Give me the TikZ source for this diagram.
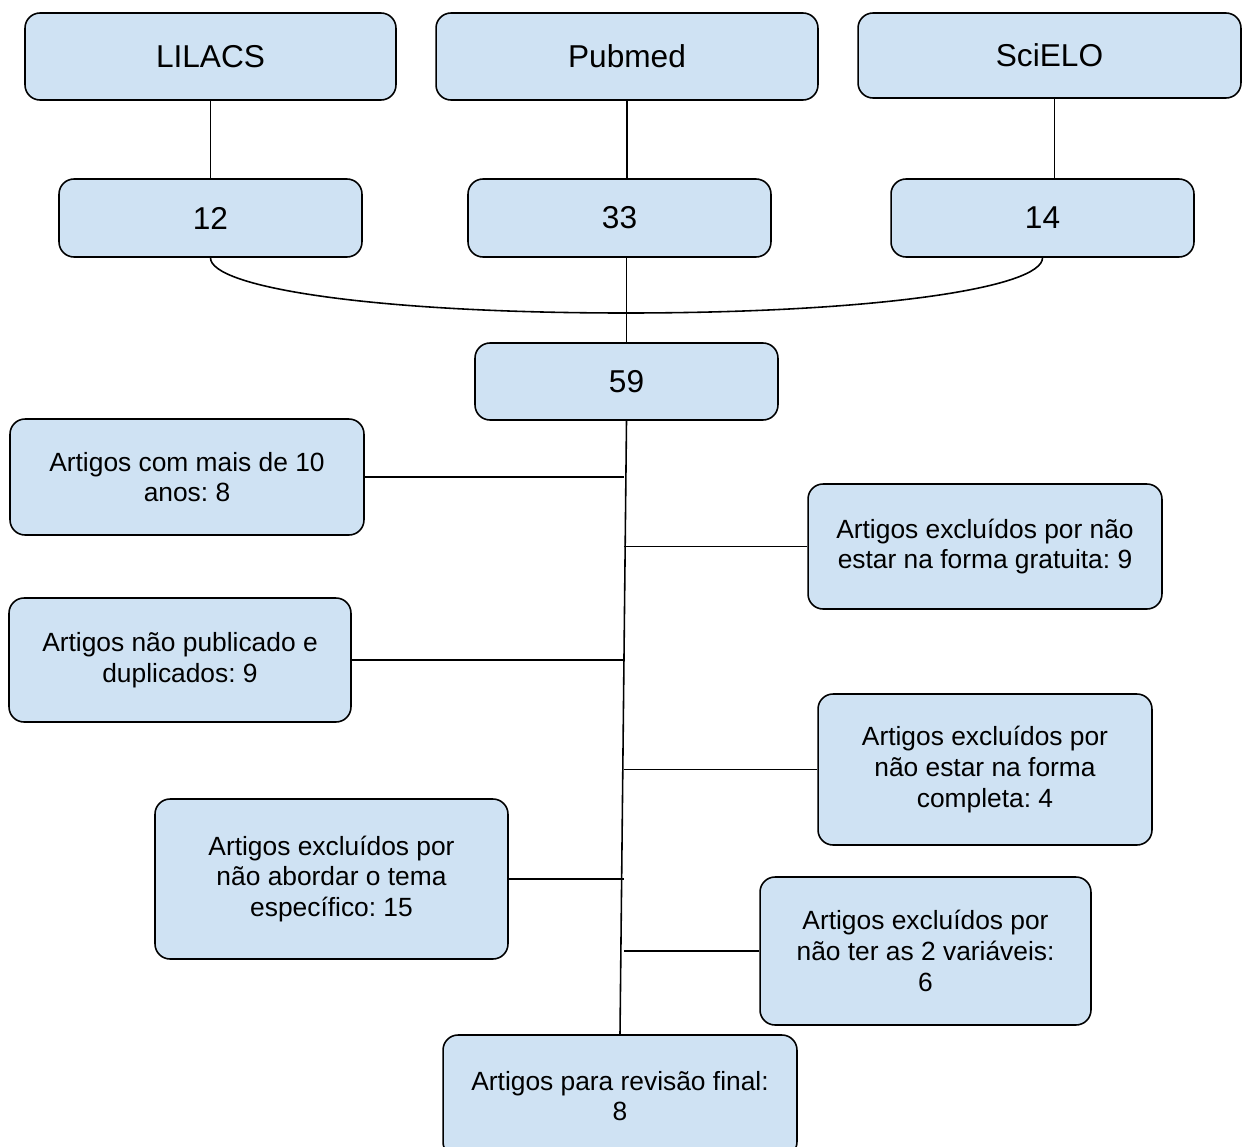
\documentclass[tikz,border=0pt]{standalone}
\usepackage{fontspec}
\setmainfont{Liberation Sans}
\usetikzlibrary{positioning}
\definecolor{azulclaro}{HTML}{CFE2F3}
\frenchspacing

\begin{document}
\begin{tikzpicture}[x=0.02cm, y=-0.02cm,
  caixa/.style={draw=black, fill=azulclaro, rounded corners=0.3cm, line width=0.9pt, align=center, inner sep=0pt},
  grande/.style={font=\fontsize{18}{22}\selectfont},
  texto/.style={font=\fontsize{15}{17.5}\selectfont},
  ligacao/.style={black, line width=0.9pt}]

\useasboundingbox (0,0) rectangle (1244,1146);

% bases de dados
\node[caixa, grande, minimum width=7.42cm, minimum height=1.74cm] (lilacs) at (210.5,56.5) {LILACS};
\node[caixa, grande, minimum width=7.64cm, minimum height=1.74cm] (pubmed) at (627,56.5) {Pubmed};
\node[caixa, grande, minimum width=7.66cm, minimum height=1.70cm] (scielo) at (1049.5,55.5) {SciELO};

\node[caixa, grande, minimum width=6.06cm, minimum height=1.56cm] (nl) at (210.5,218) {12};
\node[caixa, grande, minimum width=6.06cm, minimum height=1.56cm] (np) at (619.5,218) {33};
\node[caixa, grande, minimum width=6.06cm, minimum height=1.56cm] (ns) at (1042.5,218) {14};

\node[caixa, grande, minimum width=6.06cm, minimum height=1.54cm] (total) at (626.5,381.5) {59};

% exclusoes
\node[caixa, texto, minimum width=7.08cm, minimum height=2.32cm] (dez) at (187,477) {Artigos com mais de 10\\anos: 8};
\node[caixa, texto, minimum width=7.08cm, minimum height=2.50cm] (gratis) at (985,546.5) {Artigos excluídos por não\\estar na forma gratuita: 9};
\node[caixa, texto, minimum width=6.84cm, minimum height=2.48cm] (dupl) at (180,660) {Artigos não publicado e\\duplicados: 9};
\node[caixa, texto, minimum width=6.68cm, minimum height=3.02cm] (compl) at (985,769.5) {Artigos excluídos por\\não estar na forma\\completa: 4};
\node[caixa, texto, minimum width=7.06cm, minimum height=3.20cm] (tema) at (331.5,879) {Artigos excluídos por\\não abordar o tema\\específico: 15};
\node[caixa, texto, minimum width=6.62cm, minimum height=2.96cm] (vari) at (925.5,951) {Artigos excluídos por\\não ter as 2 variáveis:\\6};
\node[caixa, texto, minimum width=7.08cm, minimum height=2.44cm] (final) at (620,1096) {Artigos para revisão final:\\8};

\draw[ligacao] (lilacs.south) -- (lilacs.south |- nl.north);
\draw[ligacao] (pubmed.south) -- (pubmed.south |- np.north);
\draw[ligacao] ([xshift=0.1cm]scielo.south) -- ([xshift=0.1cm]scielo.south |- ns.north);

\coordinate (juncao) at (626,313);
\draw[ligacao] (nl.south) .. controls +(0,30) and +(-250,0) .. (juncao)
  .. controls +(250,0) and +(0,30) .. (ns.south);
\draw[ligacao] (total.north |- np.south) -- (total.north);

\draw[ligacao] (total.south) -- (final.north);
\coordinate (tronco) at (624,700);

\foreach \b in {dez,dupl,tema}
\draw[ligacao] (\b.east) -- (\b.east -| tronco);

\foreach \b in {gratis,compl,vari}
\draw[ligacao] (\b.west) -- (\b.west -| tronco);

\end{tikzpicture}
\end{document}
